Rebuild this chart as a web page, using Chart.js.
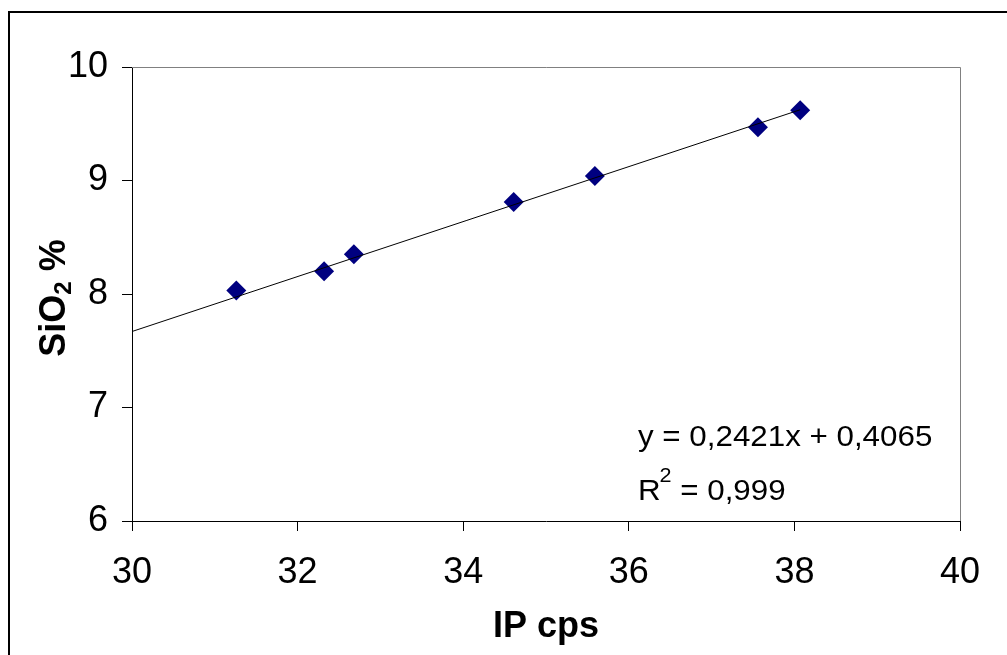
<!DOCTYPE html>
<html>
<head>
<meta charset="utf-8">
<script src="https://cdn.jsdelivr.net/npm/chart.js@4.4.1/dist/chart.umd.min.js"></script>
<style>
html, body { margin: 0; padding: 0; background: #fff; }
canvas { display: block; }
</style>
</head>
<body>
<canvas id="sio2-chart" width="1007" height="655"></canvas>
<script>
// measured points (IP cps vs SiO2 %)
const ipCps = [31.26, 32.32, 32.68, 34.61, 35.59, 37.56, 38.07];
const sio2Pct = [8.03, 8.20, 8.35, 8.81, 9.04, 9.47, 9.62];

const xTicks = [30, 32, 34, 36, 38, 40];
const yTicks = [6, 7, 8, 9, 10];

// trendline as printed on the chart
const trendSlope = 0.2421;
const trendIntercept = 0.4065;
const trendFrom = [30, 38.07];
const trendText = 'y = 0,2421x + 0,4065';
const r2Text = '0,999';

const FONT = 'Liberation Sans, Arial, sans-serif';

const frameAndText = {
    id: 'frameAndText',
    beforeDraw: function (chart) {
        const ctx = chart.ctx;
        ctx.save();
        ctx.fillStyle = '#fff';
        ctx.fillRect(0, 0, chart.width, chart.height);
        ctx.fillStyle = '#000';
        ctx.fillRect(8, 11, chart.width, 2);
        ctx.fillRect(8, 11, 2, chart.height);
        ctx.restore();
    },
    beforeDatasetsDraw: function (chart) {
        const ctx = chart.ctx;
        const a = chart.chartArea;
        ctx.save();
        ctx.strokeStyle = '#808080';
        ctx.lineWidth = 1;
        ctx.beginPath();
        ctx.moveTo(a.left, a.top + 0.5);
        ctx.lineTo(a.right + 0.5, a.top + 0.5);
        ctx.lineTo(a.right + 0.5, a.bottom);
        ctx.stroke();
        ctx.restore();
    },
    afterDraw: function (chart) {
        const ctx = chart.ctx;
        const a = chart.chartArea;
        ctx.save();
        ctx.fillStyle = '#000';
        ctx.textBaseline = 'alphabetic';

        // x title
        ctx.font = 'bold 36px ' + FONT;
        ctx.textAlign = 'center';
        ctx.fillText('IP cps', (a.left + a.right) / 2, 637);

        // y title, rotated, with subscript 2
        ctx.save();
        ctx.translate(65, (a.top + a.bottom) / 2 + 4);
        ctx.rotate(-Math.PI / 2);
        ctx.textAlign = 'left';
        ctx.font = 'bold 36px ' + FONT;
        const w1 = ctx.measureText('SiO').width;
        ctx.font = 'bold 24px ' + FONT;
        const w2 = ctx.measureText('2').width;
        ctx.font = 'bold 36px ' + FONT;
        const w3 = ctx.measureText(' %').width;
        let x = -(w1 + w2 + w3) / 2;
        ctx.fillText('SiO', x, 0);
        x += w1;
        ctx.font = 'bold 24px ' + FONT;
        ctx.fillText('2', x, 6);
        x += w2;
        ctx.font = 'bold 36px ' + FONT;
        ctx.fillText(' %', x, 0);
        ctx.restore();

        // equation and R squared (text in the original is a bit wide)
        ctx.save();
        ctx.translate(638, 0);
        ctx.scale(1.08, 1);
        ctx.textAlign = 'left';
        ctx.font = '29px ' + FONT;
        ctx.fillText(trendText, 0, 446);
        ctx.fillText('R', 0, 500);
        const rw = ctx.measureText('R').width;
        ctx.font = '20px ' + FONT;
        ctx.fillText('2', rw - 1, 482);
        const sw = ctx.measureText('2').width;
        ctx.font = '29px ' + FONT;
        ctx.fillText(' = ' + r2Text, rw + sw - 1, 500);
        ctx.restore();
        ctx.restore();
    }
};

const points = ipCps.map(function (v, i) { return { x: v, y: sio2Pct[i] }; });
const trendLine = trendFrom.map(function (v) { return { x: v, y: trendSlope * v + trendIntercept }; });

new Chart(document.getElementById('sio2-chart'), {
    type: 'scatter',
    data: {
        datasets: [{
            label: 'trend',
            data: trendLine,
            showLine: true,
            borderColor: '#000',
            borderWidth: 1,
            pointRadius: 0,
            fill: false
        }, {
            label: 'SiO2',
            data: points,
            pointStyle: 'rectRot',
            pointRadius: 10,
            backgroundColor: '#000080',
            borderColor: '#000080',
            borderWidth: 0
        }]
    },
    options: {
        responsive: false,
        animation: false,
        layout: { padding: { top: 67, right: 47, left: 0, bottom: 0 } },
        plugins: {
            legend: { display: false },
            tooltip: { enabled: false }
        },
        scales: {
            x: {
                type: 'linear',
                min: 30,
                max: 40,
                afterBuildTicks: function (s) { s.ticks = xTicks.map(function (v) { return { value: v }; }); },
                afterFit: function (s) { s.height = 134; },
                grid: { drawOnChartArea: false, drawTicks: true, tickLength: 10, color: '#000' },
                border: { display: true, color: '#000', width: 1 },
                ticks: { color: '#000', padding: 20, maxRotation: 0, font: { family: FONT, size: 36 } }
            },
            y: {
                type: 'linear',
                min: 6,
                max: 10,
                afterBuildTicks: function (s) { s.ticks = yTicks.map(function (v) { return { value: v }; }); },
                afterFit: function (s) { s.width = 132; },
                grid: { drawOnChartArea: false, drawTicks: true, tickLength: 10, color: '#000' },
                border: { display: true, color: '#000', width: 1 },
                ticks: { color: '#000', padding: 14, font: { family: FONT, size: 36 } }
            }
        }
    },
    plugins: [frameAndText]
});
</script>
</body>
</html>
